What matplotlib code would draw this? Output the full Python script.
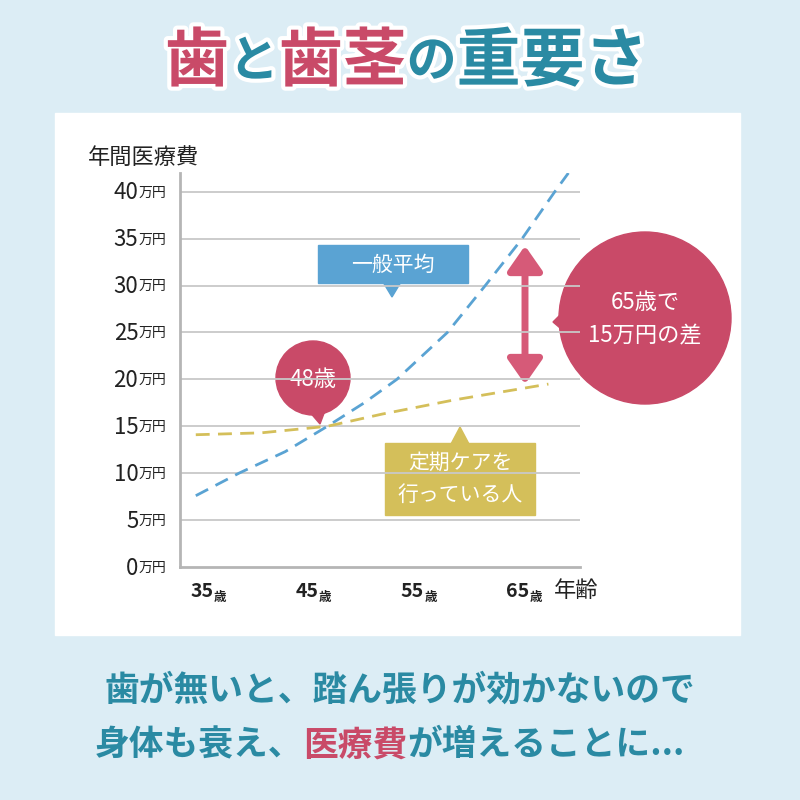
import matplotlib
matplotlib.use('Agg')
import matplotlib.pyplot as plt
from matplotlib.patches import Rectangle, Circle, Polygon, FancyArrowPatch
import matplotlib.patheffects as pe

plt.rcParams['font.family'] = ['Noto Sans CJK JP', 'DejaVu Sans']

# データ
avg_age = [33.5, 37.6, 42.0, 46.0, 49.5, 52.6, 57.4, 61.0, 64.5, 67.6, 68.9]
avg_cost = [7.6, 10.0, 12.3, 15.0, 17.5, 20.0, 25.0, 30.0, 35.0, 40.0, 42.0]
care_age = [33.5, 39.7, 46.0, 51.2, 58.0, 67.0]
care_cost = [14.1, 14.3, 15.0, 16.3, 17.8, 19.5]
y_ticks = [0, 5, 10, 15, 20, 25, 30, 35, 40]
x_ticks = [35, 45, 55, 65]

PINK = '#c94a68'
TEAL = '#2a8aa3'
BLUE = '#5aa3d3'
YELLOW = '#d4bf5a'

fig = plt.figure(figsize=(8, 8), dpi=100)
fig.patch.set_facecolor('#dcedf5')

# 背景レイヤー (ピクセル座標)
bg = fig.add_axes([0, 0, 1, 1])
bg.set_xlim(0, 800); bg.set_ylim(800, 0); bg.axis('off')
bg.add_patch(Rectangle((55, 113), 685, 522, color='white', zorder=0))

# タイトル
title_parts = [('歯', PINK, 46), ('と', TEAL, 36), ('歯茎', PINK, 46), ('の', TEAL, 36), ('重要さ', TEAL, 46)]
stroke = [pe.withStroke(linewidth=6, foreground='white')]
prev = None
for txt, c, s in title_parts:
    if prev is None:
        prev = bg.text(165, 62, txt, color=c, fontsize=s, fontweight='bold', ha='left',
                       va='center', path_effects=stroke)
    else:
        prev = bg.annotate(txt, xy=(1, 0.5), xycoords=prev, color=c, fontsize=s,
                           fontweight='bold', ha='left', va='center', path_effects=stroke)

# 下部テキスト
bg.text(400, 690, '歯が無いと、踏ん張りが効かないので', color=TEAL, fontsize=25,
        fontweight='bold', ha='center', va='center')
t1 = bg.text(95, 745, '身体も衰え、', color=TEAL, fontsize=25, fontweight='bold', ha='left', va='center')
t2 = bg.annotate('医療費', xy=(1, 0.5), xycoords=t1, color=PINK, fontsize=25,
                 fontweight='bold', ha='left', va='center')
bg.annotate('が増えることに...', xy=(1, 0.5), xycoords=t2, color=TEAL, fontsize=25,
            fontweight='bold', ha='left', va='center')

# グラフ
ax = fig.add_axes([0.225, 0.29125, 0.5, 0.4925])
ax.set_xlim(32, 70)
ax.set_ylim(0, 42)
ax.patch.set_alpha(0)
for s in ['top', 'right']:
    ax.spines[s].set_visible(False)
for s in ['left', 'bottom']:
    ax.spines[s].set_color('#b5b5b5')
    ax.spines[s].set_linewidth(2)
for v in y_ticks[1:]:
    ax.axhline(v, color='#c8c8c8', lw=1.3, zorder=1)
ax.set_xticks([]); ax.set_yticks([])

ax.plot(avg_age, avg_cost, '--', color=BLUE, lw=2, dashes=(5, 3), zorder=3)
ax.plot(care_age, care_cost, '--', color=YELLOW, lw=2, dashes=(5, 3), zorder=3)

for v in y_ticks:
    u = ax.text(-0.035, v / 42 - 0.012, '万円', transform=ax.transAxes, ha='right', va='baseline',
                fontsize=10, color='#222222')
    ax.annotate(str(v), xy=(0, 0), xycoords=u, ha='right', va='baseline', fontsize=16,
                color='#222222')
for v in x_ticks:
    n = ax.text(v + 0.2, -3.2, str(v), ha='right', va='baseline', fontsize=14,
                fontweight='bold', color='#222222')
    ax.annotate('歳', xy=(1, 0), xycoords=n, ha='left', va='baseline', fontsize=9,
                fontweight='bold', color='#222222')
ax.text(67.5, -3.2, '年齢', ha='left', va='baseline', fontsize=16, color='#222222')
ax.text(-0.23, 1.04, '年間医療費', transform=ax.transAxes, ha='left', va='center',
        fontsize=16, color='#222222')

# 吹き出し
bg.add_patch(Rectangle((318, 245), 150, 38, color=BLUE, zorder=5))
bg.add_patch(Polygon([(383, 282), (401, 282), (392, 297)], color=BLUE, zorder=5))
bg.text(393, 265, '一般平均', color='white', fontsize=15, ha='center', va='center', zorder=6)

bg.add_patch(Rectangle((385, 443), 150, 72, color=YELLOW, zorder=5))
bg.add_patch(Polygon([(451, 444), (469, 444), (460, 427)], color=YELLOW, zorder=5))
bg.text(460, 479, '定期ケアを\n行っている人', color='white', fontsize=15, ha='center',
        va='center', linespacing=1.6, zorder=6)

bg.add_patch(Circle((313, 378), 37, color=PINK, zorder=5))
bg.add_patch(Polygon([(308, 410), (326, 408), (320, 424)], color=PINK, zorder=5))
bg.text(313, 380, '48歳', color='white', fontsize=16, ha='center', va='center', zorder=6)

bg.add_patch(Circle((645, 318), 86, color=PINK, zorder=5))
bg.add_patch(Polygon([(572, 303), (572, 338), (553, 322)], color=PINK, zorder=5))
bg.text(645, 319, '65歳で\n15万円の差', color='white', fontsize=16, ha='center',
        va='center', linespacing=1.6, zorder=6)

bg.add_patch(FancyArrowPatch((525, 243), (525, 387), arrowstyle='<|-|>,head_length=10,head_width=7',
                             color='#d65a78', lw=5, mutation_scale=1.5, zorder=5))

fig.savefig('out.png', dpi=100, facecolor=fig.get_facecolor())
